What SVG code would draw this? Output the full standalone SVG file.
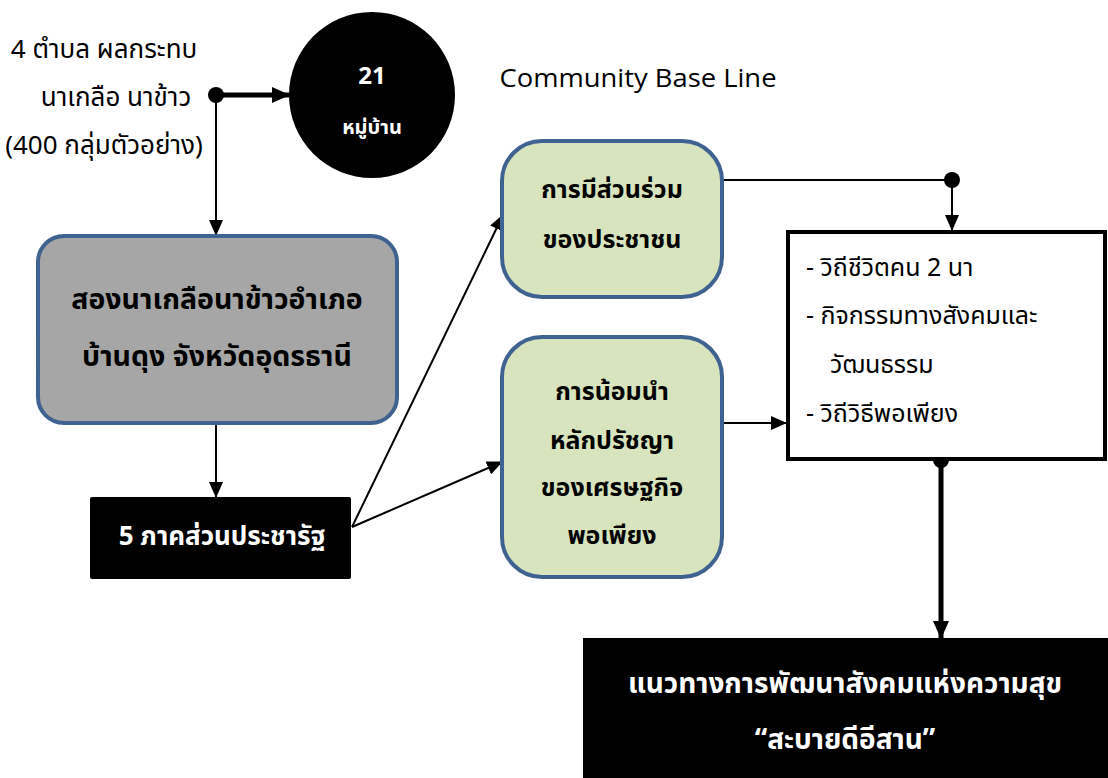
<svg xmlns="http://www.w3.org/2000/svg" width="1108" height="778" viewBox="0 0 1108 778">
<style>
text{font-family:"Noto Sans Thai","Leelawadee UI","Noto Sans","DejaVu Sans",sans-serif;text-anchor:middle;dominant-baseline:central}
.w{fill:#fff;font-weight:bold}
.b{fill:#000;font-weight:bold}
.r{fill:#000}
.green{fill:#d7e4bd;stroke:#3f6390;stroke-width:4}
.gray{fill:#a6a6a6;stroke:#3f6390;stroke-width:4}
.thin{stroke:#000;stroke-width:2;fill:none}
.thick{stroke:#000;stroke-width:5;fill:none}
</style>
<defs>
<marker id="a" markerUnits="userSpaceOnUse" markerWidth="16" markerHeight="14" refX="15" refY="7" orient="auto">
<path d="M0,0 L16,7 L0,14 Z" fill="#000"/>
</marker>
<marker id="A" markerUnits="userSpaceOnUse" markerWidth="18" markerHeight="18" refX="17" refY="9" orient="auto">
<path d="M0,1 L18,9 L0,17 Z" fill="#000"/>
</marker>
</defs>
<rect width="1108" height="778" fill="#fff"/>

<g id="connectors">
<line class="thick" x1="216" y1="95" x2="289" y2="95" marker-end="url(#A)"/>
<circle cx="216" cy="95" r="8" fill="#000"/>
<line class="thin" x1="216" y1="95" x2="216" y2="235" marker-end="url(#a)"/>
<line class="thin" x1="216" y1="423" x2="216" y2="497" marker-end="url(#a)"/>
<line class="thin" x1="352" y1="527" x2="503" y2="215" marker-end="url(#a)"/>
<line class="thin" x1="352" y1="527" x2="502" y2="462" marker-end="url(#a)"/>
<polyline class="thin" points="722,180 952,180 952,230" marker-end="url(#a)"/>
<circle cx="952" cy="180" r="8" fill="#000"/>
<line class="thin" x1="722" y1="423" x2="786" y2="423" marker-end="url(#a)"/>
<line class="thick" x1="941" y1="460" x2="941" y2="638" marker-end="url(#A)"/>
<circle cx="941" cy="460" r="8" fill="#000"/>
</g>

<g id="source-text">
<text class="r" x="104" y="50" font-size="26">4 ตำบล ผลกระทบ</text>
<text class="r" x="116" y="98" font-size="26">นาเกลือ นาข้าว</text>
<text class="r" x="104" y="146" font-size="26">(400 กลุ่มตัวอย่าง)</text>
</g>

<g id="villages">
<circle cx="372" cy="95" r="83" fill="#000"/>
<text class="w" x="372" y="77" font-size="24">21</text>
<text class="w" x="372" y="128" font-size="20">หมู่บ้าน</text>
</g>

<g id="baseline-label">
<text class="r" x="638" y="77" font-size="25" style="font-family:'Open Sans','Noto Sans',sans-serif" textLength="277" lengthAdjust="spacingAndGlyphs">Community Base Line</text>
</g>

<g id="area">
<rect class="gray" x="38" y="236" width="359" height="187" rx="26"/>
<text class="b" x="217" y="300" font-size="28.5">สองนาเกลือนาข้าวอำเภอ</text>
<text class="b" x="217" y="357" font-size="28.5">บ้านดุง จังหวัดอุดรธานี</text>
</g>

<g id="sectors">
<rect x="90" y="497" width="261" height="82" rx="2" fill="#000"/>
<text class="w" x="222" y="537" font-size="26">5 ภาคส่วนประชารัฐ</text>
</g>

<g id="participation">
<rect class="green" x="502" y="141" width="220" height="156" rx="40"/>
<text class="b" x="612" y="190" font-size="25">การมีส่วนร่วม</text>
<text class="b" x="612" y="240" font-size="25">ของประชาชน</text>
</g>

<g id="philosophy">
<rect class="green" x="502" y="337" width="220" height="240" rx="40"/>
<text class="b" x="612" y="392" font-size="25">การน้อมนำ</text>
<text class="b" x="612" y="441" font-size="25">หลักปรัชญา</text>
<text class="b" x="612" y="488" font-size="25">ของเศรษฐกิจ</text>
<text class="b" x="612" y="536" font-size="25">พอเพียง</text>
</g>

<g id="outcomes">
<rect x="788" y="232" width="317" height="227" fill="#fff" stroke="#000" stroke-width="4"/>
<text class="r" x="806" y="268" font-size="25" style="text-anchor:start">- วิถีชีวิตคน 2 นา</text>
<text class="r" x="806" y="316" font-size="25" style="text-anchor:start">- กิจกรรมทางสังคมและ</text>
<text class="r" x="830" y="365" font-size="25" style="text-anchor:start">วัฒนธรรม</text>
<text class="r" x="806" y="414" font-size="25" style="text-anchor:start">- วิถีวิธีพอเพียง</text>
</g>

<g id="goal">
<rect x="583" y="638" width="525" height="140" fill="#000"/>
<text class="w" x="845" y="684" font-size="28">แนวทางการพัฒนาสังคมแห่งความสุข</text>
<text class="w" x="845" y="740" font-size="28">“สะบายดีอีสาน”</text>
</g>
</svg>
